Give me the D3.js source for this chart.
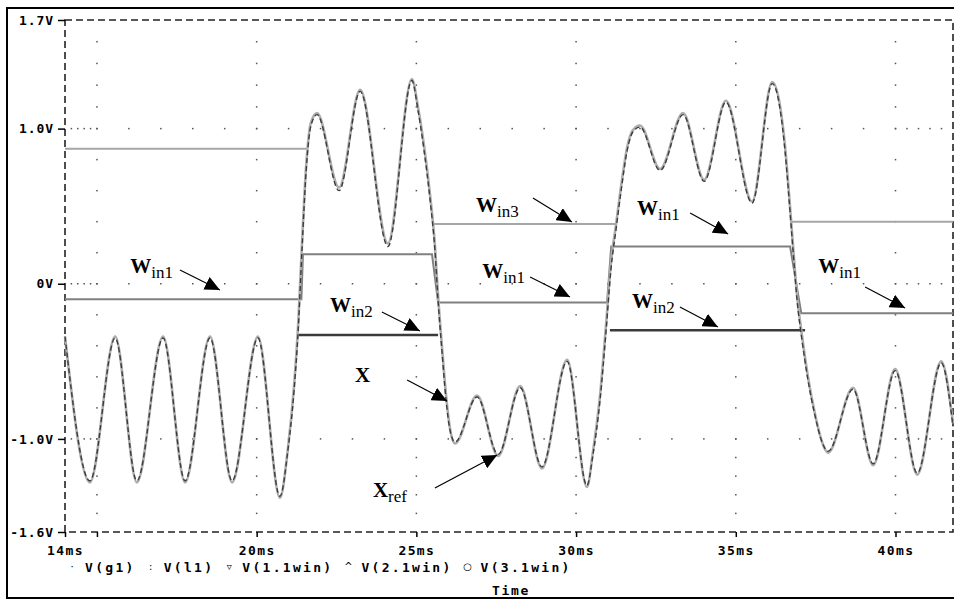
<!DOCTYPE html>
<html>
<head>
<meta charset="utf-8">
<script src="https://cdn.jsdelivr.net/npm/d3@7"></script>
<style>
  body { margin: 0; background: #fff; }
  .tick text, .lbl { font-family: "DejaVu Sans Mono", monospace; font-weight: bold; font-size: 13px; fill: #000; }
  .note { font-family: "Liberation Serif", "Times New Roman", serif; fill: #000; }
</style>
</head>
<body>
<svg class="chart" width="954" height="599"></svg>
<script>
// axis ticks
var yTicks = [1.7, 1.0, 0, -1.0, -1.6];
var yTickLabels = ["1.7V", "1.0V", "0V", "-1.0V", "-1.6V"];
var xTicks = [14, 15, 20, 25, 30, 35, 40];
var xTickLabels = ["14ms", "", "20ms", "25ms", "30ms", "35ms", "40ms"];

// legend
var legendNames = ["V(g1)", "V(l1)", "V(1.1win)", "V(2.1win)", "V(3.1win)"];
var legendMarks = ["\u00b7", ":", "\u25bf", "^", "\u25cb"];

// X and Xref (time in ms, volts)
var xTime = [14.0, 14.78, 15.57, 16.25, 17.07, 17.76, 18.54, 19.23, 20.04, 20.73,
             20.98, 21.17, 21.30, 21.42, 21.55, 21.70, 21.89, 22.58, 23.24, 24.11,
             24.86, 25.05, 25.24, 25.43, 25.58, 25.68, 25.80, 25.93, 26.05, 26.21,
             26.90, 27.56, 28.25, 28.93, 29.72, 30.34, 30.53, 30.75, 30.94, 31.09,
             31.25, 31.41, 31.60, 31.78, 32.00, 32.63, 33.35, 34.01, 34.69, 35.51,
             36.14, 36.39, 36.54, 36.67, 36.79, 36.92, 37.07, 37.26, 37.48, 37.70,
             37.89, 38.67, 39.30, 39.99, 40.68, 41.43, 41.80];
var xVals = [-0.34, -1.27, -0.35, -1.27, -0.35, -1.27, -0.35, -1.27, -0.35, -1.37,
             -1.07, -0.69, -0.30, 0.22, 0.73, 1.02, 1.09, 0.60, 1.24, 0.24,
             1.31, 1.12, 0.86, 0.54, 0.22, -0.11, -0.43, -0.75, -0.94, -1.02,
             -0.73, -1.10, -0.67, -1.18, -0.50, -1.30, -1.10, -0.75, -0.30, 0.09,
             0.35, 0.60, 0.86, 0.98, 1.01, 0.73, 1.09, 0.66, 1.17, 0.52,
             1.29, 1.12, 0.86, 0.54, 0.22, -0.11, -0.36, -0.62, -0.85, -1.02,
             -1.08, -0.68, -1.16, -0.56, -1.22, -0.51, -0.92];
var xrefVals = [-0.34, -1.28, -0.34, -1.28, -0.34, -1.28, -0.34, -1.28, -0.34, -1.38,
                -1.06, -0.66, -0.26, 0.26, 0.76, 1.04, 1.10, 0.62, 1.25, 0.26,
                1.32, 1.14, 0.89, 0.57, 0.25, -0.08, -0.40, -0.72, -0.93, -1.03,
                -0.72, -1.11, -0.66, -1.19, -0.49, -1.31, -1.08, -0.72, -0.26, 0.13,
                0.38, 0.63, 0.88, 0.99, 1.02, 0.74, 1.10, 0.67, 1.18, 0.53,
                1.30, 1.14, 0.89, 0.57, 0.25, -0.08, -0.33, -0.60, -0.84, -1.02,
                -1.09, -0.67, -1.17, -0.55, -1.23, -0.50, -0.90];

// step inputs (null = not visible)
var win1Time = [14.0, 21.40, 21.45, 25.49, 25.68, 30.97, 31.10, 36.70, 37.05, 41.80];
var win1Vals = [-0.10, -0.10, 0.19, 0.19, -0.12, -0.12, 0.24, 0.24, -0.19, -0.19];
var win2Time = [21.30, 25.68, 28.0, 31.06, 37.17];
var win2Vals = [-0.33, -0.33, null, -0.30, -0.30];
var win3Time = [14.0, 21.55, 23.5, 25.49, 31.28, 34.0, 36.70, 41.80];
var win3Vals = [0.87, 0.87, null, 0.385, 0.385, null, 0.40, 0.40];

// annotations: text at (t, v), arrow from (t0, v0) to (t1, v1)
var notes = [
  {main: "W", sub: "in1", t: 16.04, v: 0.069, t0: 17.60, v0: 0.089, t1: 18.85, v1: -0.040},
  {main: "W", sub: "in3", t: 26.87, v: 0.463, t0: 28.65, v0: 0.553, t1: 29.87, v1: 0.398},
  {main: "W", sub: "in1", t: 27.06, v: 0.037, t0: 28.56, v0: 0.044, t1: 29.81, v1: -0.085},
  {main: "W", sub: "in2", t: 22.30, v: -0.182, t0: 23.92, v0: -0.182, t1: 25.11, v1: -0.305},
  {main: "X", sub: "", t: 23.08, v: -0.633, t0: 24.71, v0: -0.620, t1: 25.96, v1: -0.756},
  {main: "X", sub: "ref", t: 23.64, v: -1.374, t0: 25.58, v0: -1.316, t1: 27.53, v1: -1.104},
  {main: "W", sub: "in1", t: 31.91, v: 0.443, t0: 33.57, v0: 0.456, t1: 34.76, v1: 0.321},
  {main: "W", sub: "in2", t: 31.75, v: -0.156, t0: 33.25, v0: -0.150, t1: 34.44, v1: -0.279},
  {main: "W", sub: "in1", t: 37.58, v: 0.069, t0: 39.05, v0: -0.021, t1: 40.30, v1: -0.156}
];

var svg = d3.select(".chart");

var x = d3.scaleLinear().domain([14, 41.8]).range([65, 953]);
var y = d3.scaleLinear().domain([-1.6, 1.7]).range([532, 20]);

// outer frame
svg.append("rect")
  .attr("x", 7).attr("y", 8).attr("width", 960).attr("height", 590)
  .attr("fill", "none").attr("stroke", "#000").attr("stroke-width", 2);

// dotted grid: 5 subdivisions between neighbouring ticks
var xEdges = [14, 15, 20, 25, 30, 35, 40, 41.8];
var yEdges = [1.7, 1.0, 0, -1.0, -1.6];
function subdiv(edges) {
  var out = [];
  for (var i = 0; i < edges.length - 1; i++) {
    for (var k = 1; k < 5; k++) out.push(edges[i] + (edges[i + 1] - edges[i]) * k / 5);
    if (i < edges.length - 2) out.push(edges[i + 1]);
  }
  return out;
}
var xMinor = subdiv(xEdges);
var yMinor = subdiv(yEdges);
var dots = [];
[15, 20, 25, 30, 35, 40].forEach(function(t) {
  yMinor.forEach(function(v) { dots.push([t, v]); });
});
[1.0, 0, -1.0].forEach(function(v) {
  xMinor.forEach(function(t) { dots.push([t, v]); });
});
svg.append("g").selectAll("rect").data(dots).enter().append("rect")
  .attr("x", function(d) { return x(d[0]) - 0.75; })
  .attr("y", function(d) { return y(d[1]) - 0.75; })
  .attr("width", 1.5).attr("height", 1.5)
  .attr("fill", "#555");

// plot border, dashed
svg.append("rect")
  .attr("x", x(14)).attr("y", y(1.7))
  .attr("width", x(41.8) - x(14)).attr("height", y(-1.6) - y(1.7))
  .attr("fill", "none").attr("stroke", "#222").attr("stroke-width", 1.6)
  .attr("stroke-dasharray", "7,4");

// axes
var yAxis = d3.axisLeft(y).tickValues(yTicks).tickSize(7).tickPadding(4)
  .tickFormat(function(d, i) { return yTickLabels[i]; });
var gy = svg.append("g").attr("transform", "translate(" + x(14) + ",0)").call(yAxis);
gy.select(".domain").remove();
gy.selectAll("line").attr("stroke", "#000").attr("stroke-width", 1.5);
gy.selectAll("text").style("letter-spacing", "0.9px");

var xAxis = d3.axisBottom(x).tickValues(xTicks).tickSize(5).tickPadding(9)
  .tickFormat(function(d, i) { return xTickLabels[i]; });
var gx = svg.append("g").attr("transform", "translate(0," + y(-1.6) + ")").call(xAxis);
gx.select(".domain").remove();
gx.selectAll("line").attr("stroke", "#000").attr("stroke-width", 1.5);
gx.selectAll("text").style("letter-spacing", "1.4px");

// series
function stepData(ts, vs) {
  return ts.map(function(t, i) { return {t: t, v: vs[i]}; });
}
var stepLine = d3.line()
  .defined(function(d) { return d.v !== null; })
  .x(function(d) { return x(d.t); })
  .y(function(d) { return y(d.v); });

svg.append("path").datum(stepData(win3Time, win3Vals))
  .attr("d", stepLine).attr("fill", "none")
  .attr("stroke", "#a6a6a6").attr("stroke-width", 2);
svg.append("path").datum(stepData(win1Time, win1Vals))
  .attr("d", stepLine).attr("fill", "none")
  .attr("stroke", "#808080").attr("stroke-width", 2);
svg.append("path").datum(stepData(win2Time, win2Vals))
  .attr("d", stepLine).attr("fill", "none")
  .attr("stroke", "#3a3a3a").attr("stroke-width", 2.5);

var waveLine = d3.line()
  .curve(d3.curveMonotoneX)
  .x(function(d) { return x(d.t); })
  .y(function(d) { return y(d.v); });

svg.append("path").datum(stepData(xTime, xrefVals))
  .attr("d", waveLine).attr("fill", "none")
  .attr("stroke", "#adadad").attr("stroke-width", 2.6);
svg.append("path").datum(stepData(xTime, xVals))
  .attr("d", waveLine).attr("fill", "none")
  .attr("stroke", "#3c3c3c").attr("stroke-width", 1.4)
  .attr("stroke-dasharray", "5,3");

// arrowhead
svg.append("defs").append("marker")
  .attr("id", "head")
  .attr("markerUnits", "userSpaceOnUse")
  .attr("viewBox", "0 0 15 14")
  .attr("refX", 15).attr("refY", 7)
  .attr("markerWidth", 15).attr("markerHeight", 14)
  .attr("orient", "auto")
  .append("path").attr("d", "M0,0L15,7L0,14Z").attr("fill", "#000");

var note = svg.append("g").selectAll("g").data(notes).enter().append("g");
note.append("line")
  .attr("x1", function(d) { return x(d.t0); })
  .attr("y1", function(d) { return y(d.v0); })
  .attr("x2", function(d) { return x(d.t1); })
  .attr("y2", function(d) { return y(d.v1); })
  .attr("stroke", "#000").attr("stroke-width", 1.2)
  .attr("marker-end", "url(#head)");
var nt = note.append("text").attr("class", "note")
  .attr("x", function(d) { return x(d.t); })
  .attr("y", function(d) { return y(d.v); });
nt.append("tspan").style("font-weight", "bold").style("font-size", "21px")
  .text(function(d) { return d.main; });
nt.append("tspan").attr("dy", 5).style("font-size", "17px")
  .text(function(d) { return d.sub; });

// legend
var leg = svg.append("g");
var lx = 69;
legendNames.forEach(function(name, i) {
  leg.append("text").attr("x", lx + 3).attr("y", 570)
    .attr("text-anchor", "middle")
    .style("font-family", "DejaVu Sans").style("font-size", "10px")
    .text(legendMarks[i]);
  var t = leg.append("text").attr("class", "lbl").attr("x", lx + 16).attr("y", 572)
    .style("letter-spacing", "2.3px").text(name);
  lx = lx + 16 + t.node().getComputedTextLength() + 12;
});
svg.append("text").attr("class", "lbl")
  .attr("x", 511).attr("y", 595).attr("text-anchor", "middle")
  .style("letter-spacing", "1.7px").text("Time");
</script>
</body>
</html>
